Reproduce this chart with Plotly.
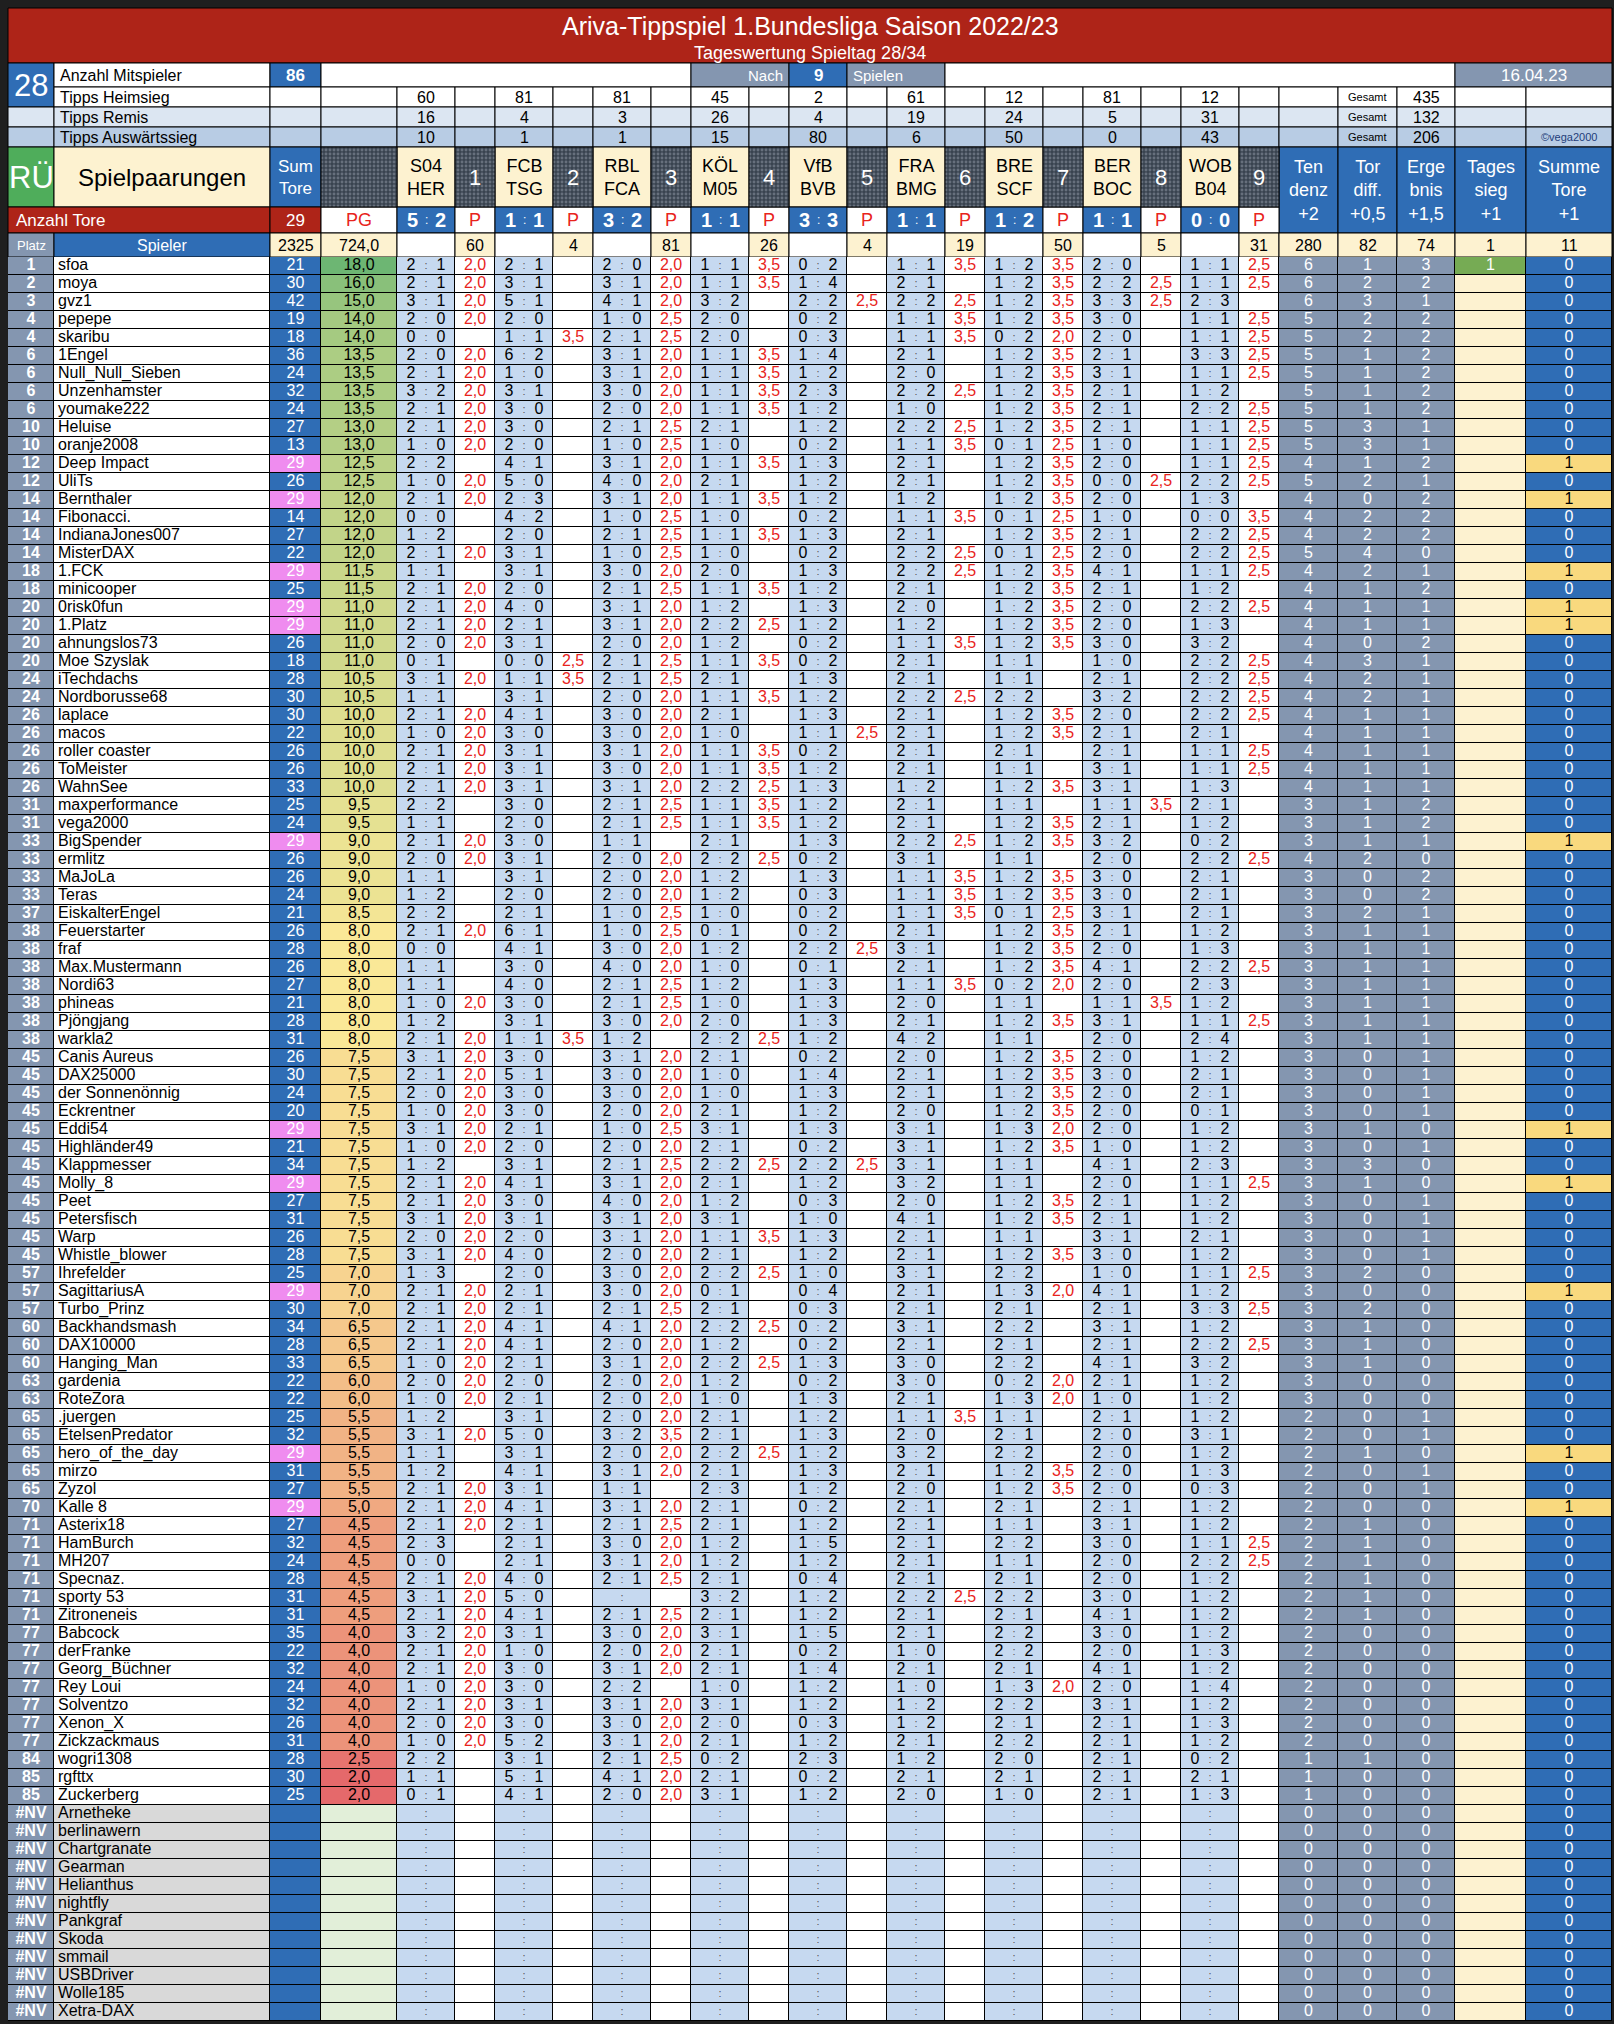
import plotly.graph_objects as go

# ---------------- data ----------------
titel = "Ariva-Tippspiel 1.Bundesliga Saison 2022/23"
untertitel = "Tageswertung Spieltag 28/34"
spieltag = 28
mitspieler = 86
spiele = 9
datum = "16.04.23"

paarungen = ["S04<br>HER", "FCB<br>TSG", "RBL<br>FCA", "KÖL<br>M05", "VfB<br>BVB",
             "FRA<br>BMG", "BRE<br>SCF", "BER<br>BOC", "WOB<br>B04"]
ergebnisse = ["52", "11", "32", "11", "33", "11", "12", "11", "00"]
tipps_heim = [60, 81, 81, 45, 2, 61, 12, 81, 12]
tipps_remis = [16, 4, 3, 26, 4, 19, 24, 5, 31]
tipps_ausw = [10, 1, 1, 15, 80, 6, 50, 0, 43]
tipps_gesamt = [435, 132, 206]
anzahl_tore = 29
summe_sumtore = 2325
summe_pg = "724,0"
punkte_spiel = [60, 4, 81, 26, 4, 19, 50, 5, 31]
wertung_titel = ["Ten<br>denz<br>+2", "Tor<br>diff.<br>+0,5", "Erge<br>bnis<br>+1,5",
                 "Tages<br>sieg<br>+1", "Summe<br>Tore<br>+1"]
wertung_summen = [280, 82, 74, 1, 11]

platz = [1, 2, 3, 4, 4, 6, 6, 6, 6, 10,
         10, 12, 12, 14, 14, 14, 14, 18, 18, 20,
         20, 20, 20, 24, 24, 26, 26, 26, 26, 26,
         31, 31, 33, 33, 33, 33, 37, 38, 38, 38,
         38, 38, 38, 38, 45, 45, 45, 45, 45, 45,
         45, 45, 45, 45, 45, 45, 57, 57, 57, 60,
         60, 60, 63, 63, 65, 65, 65, 65, 65, 70,
         71, 71, 71, 71, 71, 71, 77, 77, 77, 77,
         77, 77, 77, 84, 85, 85]

spieler = ["sfoa", "moya", "gvz1", "pepepe", "skaribu", "1Engel", "Null_Null_Sieben",
           "Unzenhamster", "youmake222", "Heluise", "oranje2008", "Deep Impact", "UliTs",
           "Bernthaler", "Fibonacci.", "IndianaJones007", "MisterDAX", "1.FCK", "minicooper",
           "0risk0fun", "1.Platz", "ahnungslos73", "Moe Szyslak", "iTechdachs", "Nordborusse68",
           "laplace", "macos", "roller coaster", "ToMeister", "WahnSee", "maxperformance",
           "vega2000", "BigSpender", "ermlitz", "MaJoLa", "Teras", "EiskalterEngel",
           "Feuerstarter", "fraf", "Max.Mustermann", "Nordi63", "phineas", "Pjöngjang",
           "warkla2", "Canis Aureus", "DAX25000", "der Sonnenönnig", "Eckrentner", "Eddi54",
           "Highländer49", "Klappmesser", "Molly_8", "Peet", "Petersfisch", "Warp",
           "Whistle_blower", "Ihrefelder", "SagittariusA", "Turbo_Prinz", "Backhandsmash",
           "DAX10000", "Hanging_Man", "gardenia", "RoteZora", ".juergen", "EtelsenPredator",
           "hero_of_the_day", "mirzo", "Zyzol", "Kalle 8", "Asterix18", "HamBurch", "MH207",
           "Specnaz.", "sporty 53", "Zitroneneis", "Babcock", "derFranke", "Georg_Büchner",
           "Rey Loui", "Solventzo", "Xenon_X", "Zickzackmaus", "wogri1308", "rgfttx",
           "Zuckerberg"]

sum_tore = [21, 30, 42, 19, 18, 36, 24, 32, 24, 27,
            13, 29, 26, 29, 14, 27, 22, 29, 25, 29,
            29, 26, 18, 28, 30, 30, 22, 26, 26, 33,
            25, 24, 29, 26, 26, 24, 21, 26, 28, 26,
            27, 21, 28, 31, 26, 30, 24, 20, 29, 21,
            34, 29, 27, 31, 26, 28, 25, 29, 30, 34,
            28, 33, 22, 22, 25, 32, 29, 31, 27, 29,
            27, 32, 24, 28, 31, 31, 35, 22, 32, 24,
            32, 26, 31, 28, 30, 25]

pg = [18.0, 16.0, 15.0, 14.0, 14.0, 13.5, 13.5, 13.5, 13.5, 13.0,
      13.0, 12.5, 12.5, 12.0, 12.0, 12.0, 12.0, 11.5, 11.5, 11.0,
      11.0, 11.0, 11.0, 10.5, 10.5, 10.0, 10.0, 10.0, 10.0, 10.0,
      9.5, 9.5, 9.0, 9.0, 9.0, 9.0, 8.5, 8.0, 8.0, 8.0,
      8.0, 8.0, 8.0, 8.0, 7.5, 7.5, 7.5, 7.5, 7.5, 7.5,
      7.5, 7.5, 7.5, 7.5, 7.5, 7.5, 7.0, 7.0, 7.0, 6.5,
      6.5, 6.5, 6.0, 6.0, 5.5, 5.5, 5.5, 5.5, 5.5, 5.0,
      4.5, 4.5, 4.5, 4.5, 4.5, 4.5, 4.0, 4.0, 4.0, 4.0,
      4.0, 4.0, 4.0, 2.5, 2.0, 2.0]

# tips per player, one "home away" pair per game ("--" = no tip)
tipps = [
    "21 21 20 11 02 11 12 20 11", "21 31 31 11 14 21 12 22 11", "31 51 41 32 22 22 12 33 23",
    "20 20 10 20 02 11 12 30 11", "00 11 21 20 03 11 02 20 11", "20 62 31 11 14 21 12 21 33",
    "21 10 31 11 12 20 12 31 11", "32 31 30 11 23 22 12 21 12", "21 30 20 11 12 10 12 21 22",
    "21 30 21 21 12 22 12 21 11", "10 20 10 10 02 11 01 10 11", "22 41 31 11 13 21 12 20 11",
    "10 50 40 21 12 21 12 00 22", "21 23 31 11 12 12 12 20 13", "00 42 10 10 02 11 01 10 00",
    "12 20 21 11 13 21 12 21 22", "21 31 10 10 02 22 01 20 22", "11 31 30 20 13 22 12 41 11",
    "21 20 21 11 12 21 12 21 12", "21 40 31 12 13 20 12 20 22", "21 21 31 22 12 12 12 20 13",
    "20 31 20 12 02 11 12 30 32", "01 00 21 11 02 21 11 10 22", "31 11 21 21 13 21 11 21 22",
    "11 31 20 11 12 22 22 32 22", "21 41 30 21 13 21 12 20 22", "10 30 30 10 11 21 12 21 21",
    "21 31 31 11 02 21 21 21 11", "21 31 30 11 12 21 11 31 11", "21 31 31 22 13 12 12 31 13",
    "22 30 21 11 12 21 11 11 21", "11 20 21 11 12 21 12 21 12", "21 30 11 21 13 22 12 32 02",
    "20 31 20 22 02 31 11 20 22", "11 31 20 12 13 11 12 30 21", "12 20 20 12 03 11 12 30 21",
    "22 21 10 10 02 11 01 31 21", "21 61 10 01 02 21 12 21 12", "00 41 30 12 22 31 12 20 13",
    "11 30 40 10 01 21 12 41 22", "11 40 21 12 13 11 02 20 23", "10 30 21 10 13 20 11 11 12",
    "12 31 30 20 13 21 12 31 11", "21 11 12 22 12 42 11 20 24", "31 30 31 21 02 20 12 20 12",
    "21 51 30 10 14 21 12 30 21", "20 30 30 10 13 21 12 20 21", "10 30 20 21 12 20 12 20 01",
    "31 21 10 31 13 31 13 20 12", "10 20 20 21 02 31 12 10 12", "12 31 21 22 22 31 11 41 23",
    "21 41 31 21 12 32 11 20 11", "21 30 40 12 03 20 12 21 12", "31 31 31 31 10 41 12 21 12",
    "20 20 31 11 13 21 11 31 21", "31 40 20 21 12 21 12 30 12", "13 20 30 22 10 31 22 10 11",
    "21 21 30 01 04 21 13 41 12", "21 21 21 21 03 21 21 21 33", "21 41 41 22 02 31 22 31 12",
    "21 41 20 12 02 21 21 21 22", "10 21 31 22 13 30 22 41 32", "20 20 20 12 02 30 02 21 12",
    "10 21 20 10 13 21 13 10 12", "12 31 20 21 12 11 11 21 12", "31 50 32 21 13 20 21 20 31",
    "11 31 20 22 12 32 22 20 12", "12 41 31 21 13 21 12 20 13", "21 31 11 23 12 20 12 20 03",
    "21 41 31 21 02 21 21 21 12", "21 21 21 21 12 21 11 31 12", "23 21 30 12 15 21 22 30 11",
    "00 21 31 12 12 21 11 20 22", "21 40 21 21 04 21 21 20 12", "31 50 -- 32 12 22 22 30 12",
    "21 41 21 21 12 21 21 41 12", "32 31 30 31 15 21 22 30 12", "21 10 20 21 02 10 22 20 13",
    "21 30 31 21 14 21 21 41 12", "10 30 22 10 12 10 13 20 14", "21 31 31 31 12 12 22 31 12",
    "20 30 30 20 03 12 21 21 13", "10 52 31 21 12 21 22 21 12", "22 31 21 02 23 12 20 21 02",
    "11 51 41 21 02 21 21 21 21", "01 41 20 31 12 20 10 21 13",
]

# points per game ("-" = none)
punkte = [
    "2,0 - 2,0 3,5 - 3,5 3,5 - 2,5", "2,0 - 2,0 3,5 - - 3,5 2,5 2,5", "2,0 - 2,0 - 2,5 2,5 3,5 2,5 -",
    "2,0 - 2,5 - - 3,5 3,5 - 2,5", "- 3,5 2,5 - - 3,5 2,0 - 2,5", "2,0 - 2,0 3,5 - - 3,5 - 2,5",
    "2,0 - 2,0 3,5 - - 3,5 - 2,5", "2,0 - 2,0 3,5 - 2,5 3,5 - -", "2,0 - 2,0 3,5 - - 3,5 - 2,5",
    "2,0 - 2,5 - - 2,5 3,5 - 2,5", "2,0 - 2,5 - - 3,5 2,5 - 2,5", "- - 2,0 3,5 - - 3,5 - 2,5",
    "2,0 - 2,0 - - - 3,5 2,5 2,5", "2,0 - 2,0 3,5 - - 3,5 - -", "- - 2,5 - - 3,5 2,5 - 3,5",
    "- - 2,5 3,5 - - 3,5 - 2,5", "2,0 - 2,5 - - 2,5 2,5 - 2,5", "- - 2,0 - - 2,5 3,5 - 2,5",
    "2,0 - 2,5 3,5 - - 3,5 - -", "2,0 - 2,0 - - - 3,5 - 2,5", "2,0 - 2,0 2,5 - - 3,5 - -",
    "2,0 - 2,0 - - 3,5 3,5 - -", "- 2,5 2,5 3,5 - - - - 2,5", "2,0 3,5 2,5 - - - - - 2,5",
    "- - 2,0 3,5 - 2,5 - - 2,5", "2,0 - 2,0 - - - 3,5 - 2,5", "2,0 - 2,0 - 2,5 - 3,5 - -",
    "2,0 - 2,0 3,5 - - - - 2,5", "2,0 - 2,0 3,5 - - - - 2,5", "2,0 - 2,0 2,5 - - 3,5 - -",
    "- - 2,5 3,5 - - - 3,5 -", "- - 2,5 3,5 - - 3,5 - -", "2,0 - - - - 2,5 3,5 - -",
    "2,0 - 2,0 2,5 - - - - 2,5", "- - 2,0 - - 3,5 3,5 - -", "- - 2,0 - - 3,5 3,5 - -",
    "- - 2,5 - - 3,5 2,5 - -", "2,0 - 2,5 - - - 3,5 - -", "- - 2,0 - 2,5 - 3,5 - -",
    "- - 2,0 - - - 3,5 - 2,5", "- - 2,5 - - 3,5 2,0 - -", "2,0 - 2,5 - - - - 3,5 -",
    "- - 2,0 - - - 3,5 - 2,5", "2,0 3,5 - 2,5 - - - - -", "2,0 - 2,0 - - - 3,5 - -",
    "2,0 - 2,0 - - - 3,5 - -", "2,0 - 2,0 - - - 3,5 - -", "2,0 - 2,0 - - - 3,5 - -",
    "2,0 - 2,5 - - - 2,0 - -", "2,0 - 2,0 - - - 3,5 - -", "- - 2,5 2,5 2,5 - - - -",
    "2,0 - 2,0 - - - - - 2,5", "2,0 - 2,0 - - - 3,5 - -", "2,0 - 2,0 - - - 3,5 - -",
    "2,0 - 2,0 3,5 - - - - -", "2,0 - 2,0 - - - 3,5 - -", "- - 2,0 2,5 - - - - 2,5",
    "2,0 - 2,0 - - - 2,0 - -", "2,0 - 2,5 - - - - - 2,5", "2,0 - 2,0 2,5 - - - - -",
    "2,0 - 2,0 - - - - - 2,5", "2,0 - 2,0 2,5 - - - - -", "2,0 - 2,0 - - - 2,0 - -",
    "2,0 - 2,0 - - - 2,0 - -", "- - 2,0 - - 3,5 - - -", "2,0 - 3,5 - - - - - -",
    "- - 2,0 2,5 - - - - -", "- - 2,0 - - - 3,5 - -", "2,0 - - - - - 3,5 - -",
    "2,0 - 2,0 - - - - - -", "2,0 - 2,5 - - - - - -", "- - 2,0 - - - - - 2,5",
    "- - 2,0 - - - - - 2,5", "2,0 - 2,5 - - - - - -", "2,0 - - - - 2,5 - - -",
    "2,0 - 2,5 - - - - - -", "2,0 - 2,0 - - - - - -", "2,0 - 2,0 - - - - - -",
    "2,0 - 2,0 - - - - - -", "2,0 - - - - - 2,0 - -", "2,0 - 2,0 - - - - - -",
    "2,0 - 2,0 - - - - - -", "2,0 - 2,0 - - - - - -", "- - 2,5 - - - - - -",
    "- - 2,0 - - - - - -", "- - 2,0 - - - - - -",
]

tendenz = [6, 6, 6, 5, 5, 5, 5, 5, 5, 5,
           5, 4, 5, 4, 4, 4, 5, 4, 4, 4,
           4, 4, 4, 4, 4, 4, 4, 4, 4, 4,
           3, 3, 3, 4, 3, 3, 3, 3, 3, 3,
           3, 3, 3, 3, 3, 3, 3, 3, 3, 3,
           3, 3, 3, 3, 3, 3, 3, 3, 3, 3,
           3, 3, 3, 3, 2, 2, 2, 2, 2, 2,
           2, 2, 2, 2, 2, 2, 2, 2, 2, 2,
           2, 2, 2, 1, 1, 1]
tordiff = [1, 2, 3, 2, 2, 1, 1, 1, 1, 3,
           3, 1, 2, 0, 2, 2, 4, 2, 1, 1,
           1, 0, 3, 2, 2, 1, 1, 1, 1, 1,
           1, 1, 1, 2, 0, 0, 2, 1, 1, 1,
           1, 1, 1, 1, 0, 0, 0, 0, 1, 0,
           3, 1, 0, 0, 0, 0, 2, 0, 2, 1,
           1, 1, 0, 0, 0, 0, 1, 0, 0, 0,
           1, 1, 1, 1, 1, 1, 0, 0, 0, 0,
           0, 0, 0, 1, 0, 0]
ergebnis = [3, 2, 1, 2, 2, 2, 2, 2, 2, 1,
            1, 2, 1, 2, 2, 2, 0, 1, 2, 1,
            1, 2, 1, 1, 1, 1, 1, 1, 1, 1,
            2, 2, 1, 0, 2, 2, 1, 1, 1, 1,
            1, 1, 1, 1, 1, 1, 1, 1, 0, 1,
            0, 0, 1, 1, 1, 1, 0, 0, 0, 0,
            0, 0, 0, 0, 1, 1, 0, 1, 1, 0,
            0, 0, 0, 0, 0, 0, 0, 0, 0, 0,
            0, 0, 0, 0, 0, 0]
tagessieg = [1, 0, 0, 0, 0, 0, 0, 0, 0, 0,
             0, 0, 0, 0, 0, 0, 0, 0, 0, 0,
             0, 0, 0, 0, 0, 0, 0, 0, 0, 0,
             0, 0, 0, 0, 0, 0, 0, 0, 0, 0,
             0, 0, 0, 0, 0, 0, 0, 0, 0, 0,
             0, 0, 0, 0, 0, 0, 0, 0, 0, 0,
             0, 0, 0, 0, 0, 0, 0, 0, 0, 0,
             0, 0, 0, 0, 0, 0, 0, 0, 0, 0,
             0, 0, 0, 0, 0, 0]
summe_tore = [0, 0, 0, 0, 0, 0, 0, 0, 0, 0,
              0, 1, 0, 1, 0, 0, 0, 1, 0, 1,
              1, 0, 0, 0, 0, 0, 0, 0, 0, 0,
              0, 0, 1, 0, 0, 0, 0, 0, 0, 0,
              0, 0, 0, 0, 0, 0, 0, 0, 1, 0,
              0, 1, 0, 0, 0, 0, 0, 1, 0, 0,
              0, 0, 0, 0, 0, 0, 1, 0, 0, 1,
              0, 0, 0, 0, 0, 0, 0, 0, 0, 0,
              0, 0, 0, 0, 0, 0]

nv_spieler = ["Arnetheke", "berlinawern", "Chartgranate", "Gearman", "Helianthus", "nightfly",
              "Pankgraf", "Skoda", "smmail", "USBDriver", "Wolle185", "Xetra-DAX"]

# ---------------- styling ----------------
BLUE = "#2f6db5"
GREYBLUE = "#8496b0"
LIGHTBLUE = "#c6d9f0"
CREAM = "#fdf2d0"
DARKRED = "#ae2418"
REDTEXT = "#e8241c"
PINK = "#ef8cef"
YELLOW = "#f9d97e"
GREEN_T = "#76ab54"
GREEN_RU = "#4fad5b"
NVGREY = "#d9d9d9"
NVPG = "#e2efd9"
REMIS = "#dce6f2"
AUSW = "#b8cce4"
WHITE = "#ffffff"
FONT = "Liberation Sans, Arial, Helvetica, sans-serif"

col_w = [46, 216, 51, 76] + [58, 40] * 9 + [59, 59, 58, 71, 86]
edges = [8]
for w in col_w:
    edges.append(edges[-1] + w)
hy = [8, 63, 87, 107, 127, 147, 207, 233, 257]
ROW_H = 18
n_rows = len(spieler) + len(nv_spieler)
by = [hy[-1] + ROW_H * i for i in range(n_rows + 1)]
yc = [(by[i] + by[i + 1]) / 2 for i in range(n_rows)]


def cx(c):
    return (edges[c] + edges[c + 1]) / 2


def tip_col(g):
    return 4 + 2 * g


def p_col(g):
    return 5 + 2 * g


shapes = [dict(type="rect", x0=edges[0], x1=edges[-1], y0=hy[0], y1=by[-1],
               fillcolor="black", line=dict(width=0), layer="below")]
annotations = []


def cell(x0, x1, y0, y1, fill):
    shapes.append(dict(type="rect", x0=x0, x1=x1, y0=y0, y1=y1, fillcolor=fill,
                       line=dict(color="black", width=1), layer="below"))


def label(x, y, text, color="black", size=16, anchor="center", bold=False):
    annotations.append(dict(x=x, y=y, text=text, showarrow=False, xanchor=anchor,
                            yanchor="middle", align="center",
                            font=dict(color=color, size=size, family=FONT,
                                      weight="bold" if bold else "normal")))


fig = go.Figure()

# ---------------- header ----------------
cell(edges[0], edges[-1], hy[0], hy[1], DARKRED)
label(810, 26, titel, WHITE, 25)
label(810, 53, untertitel, WHITE, 18)

y0, y1 = hy[1], hy[2]
ym = (y0 + y1) / 2
cell(edges[0], edges[1], hy[1], hy[3], BLUE)
label(cx(0), (hy[1] + hy[3]) / 2, str(spieltag), WHITE, 31)
cell(edges[1], edges[2], y0, y1, WHITE)
label(edges[1] + 4, ym, "Anzahl Mitspieler", "black", 16, "left")
cell(edges[2], edges[3], y0, y1, BLUE)
label(cx(2), ym, str(mitspieler), WHITE, 17, bold=True)
cell(edges[3], edges[tip_col(3)], y0, y1, WHITE)
cell(edges[tip_col(3)], edges[tip_col(4)], y0, y1, GREYBLUE)
label(edges[tip_col(4)] - 4, ym, "Nach", WHITE, 15, "right")
cell(edges[tip_col(4)], edges[p_col(4)], y0, y1, BLUE)
label(cx(tip_col(4)), ym, str(spiele), WHITE, 17, bold=True)
cell(edges[p_col(4)], edges[p_col(5)], y0, y1, GREYBLUE)
label(edges[p_col(4)] + 4, ym, "Spielen", WHITE, 15, "left")
cell(edges[p_col(5)], edges[25], y0, y1, WHITE)
cell(edges[25], edges[27], y0, y1, GREYBLUE)
label((edges[25] + edges[27]) / 2, ym, datum, WHITE, 17)

tipp_rows = [("Tipps Heimsieg", tipps_heim, WHITE),
             ("Tipps Remis", tipps_remis, REMIS),
             ("Tipps Auswärtssieg", tipps_ausw, AUSW)]
for r, (name, vals, fill) in enumerate(tipp_rows):
    y0, y1 = hy[2 + r], hy[3 + r]
    ym = (y0 + y1) / 2
    if r > 0:
        cell(edges[0], edges[1], y0, y1, fill)
    cell(edges[1], edges[2], y0, y1, fill)
    label(edges[1] + 4, ym, name, "black", 16, "left")
    cell(edges[2], edges[3], y0, y1, fill)
    cell(edges[3], edges[4], y0, y1, fill)
    for g in range(9):
        cell(edges[tip_col(g)], edges[tip_col(g) + 1], y0, y1, fill)
        label(cx(tip_col(g)), ym, str(vals[g]), "black", 16)
        cell(edges[p_col(g)], edges[p_col(g) + 1], y0, y1, fill)
    for c in range(22, 27):
        cell(edges[c], edges[c + 1], y0, y1, fill)
    label(cx(23), ym, "Gesamt", "black", 11)
    label(cx(24), ym, str(tipps_gesamt[r]), "black", 16)
    if r == 2:
        label(cx(26), ym, "©vega2000", "#1f3d7a", 11)

# Spielpaarungen row
y0, y1 = hy[5], hy[6]
ym = (y0 + y1) / 2
cell(edges[0], edges[1], y0, y1, GREEN_RU)
label(cx(0), ym, "RÜ", WHITE, 31)
cell(edges[1], edges[2], y0, y1, CREAM)
label(cx(1), ym, "Spielpaarungen", "black", 24)
cell(edges[2], edges[3], y0, y1, BLUE)
label(cx(2), ym, "Sum<br>Tore", WHITE, 17)
hatch_x, hatch_w = [cx(3)], [col_w[3]]
for g in range(9):
    cell(edges[tip_col(g)], edges[tip_col(g) + 1], y0, y1, CREAM)
    label(cx(tip_col(g)), ym, paarungen[g], "black", 18)
    hatch_x.append(cx(p_col(g)))
    hatch_w.append(col_w[p_col(g)])
    label(cx(p_col(g)), ym, str(g + 1), WHITE, 22)
fig.add_trace(go.Bar(x=hatch_x, y=[y1 - y0] * len(hatch_x), base=[y0] * len(hatch_x),
                     width=hatch_w, hoverinfo="skip", showlegend=False,
                     marker=dict(color="#39434f", line=dict(color="black", width=1),
                                 pattern=dict(shape=".", fgcolor="#959dab", bgcolor="#39434f",
                                              size=4, solidity=0.4))))
for k, c in enumerate(range(22, 27)):
    cell(edges[c], edges[c + 1], hy[5], hy[7], BLUE)
    label(cx(c), (hy[5] + hy[7]) / 2, wertung_titel[k], WHITE, 18)

# Anzahl Tore row
y0, y1 = hy[6], hy[7]
ym = (y0 + y1) / 2
cell(edges[0], edges[2], y0, y1, DARKRED)
label(edges[0] + 6, ym, "Anzahl Tore", WHITE, 17, "left")
cell(edges[2], edges[3], y0, y1, DARKRED)
label(cx(2), ym, str(anzahl_tore), WHITE, 17)
cell(edges[3], edges[4], y0, y1, WHITE)
label(cx(3), ym, "PG", REDTEXT, 18)
for g in range(9):
    c = tip_col(g)
    cell(edges[c], edges[c + 1], y0, y1, BLUE)
    label(cx(c) - 14, ym, ergebnisse[g][0], WHITE, 20, bold=True)
    label(cx(c), ym, ":", WHITE, 12)
    label(cx(c) + 14, ym, ergebnisse[g][1], WHITE, 20, bold=True)
    cell(edges[c + 1], edges[c + 2], y0, y1, WHITE)
    label(cx(c + 1), ym, "P", REDTEXT, 18)

# Platz / Spieler row
y0, y1 = hy[7], hy[8]
ym = (y0 + y1) / 2
cell(edges[0], edges[1], y0, y1, GREYBLUE)
label(cx(0), ym, "Platz", WHITE, 13)
cell(edges[1], edges[2], y0, y1, BLUE)
label(cx(1), ym, "Spieler", WHITE, 16)
cell(edges[2], edges[3], y0, y1, CREAM)
label(cx(2), ym, str(summe_sumtore), "black", 16)
cell(edges[3], edges[4], y0, y1, CREAM)
label(cx(3), ym, summe_pg, "black", 16)
for g in range(9):
    cell(edges[tip_col(g)], edges[tip_col(g) + 1], y0, y1, WHITE)
    cell(edges[p_col(g)], edges[p_col(g) + 1], y0, y1, CREAM)
    label(cx(p_col(g)), ym, str(punkte_spiel[g]), "black", 16)
for k, c in enumerate(range(22, 27)):
    cell(edges[c], edges[c + 1], y0, y1, CREAM)
    label(cx(c), ym, str(wertung_summen[k]), "black", 16)

# ---------------- body cells ----------------
palette = [GREYBLUE, WHITE, BLUE, PINK, LIGHTBLUE, CREAM, GREEN_T, YELLOW, NVGREY, NVPG]
code = {c: i for i, c in enumerate(palette)}
z = []
for i in range(len(spieler)):
    row = [GREYBLUE, WHITE, PINK if sum_tore[i] == anzahl_tore else BLUE, None]
    row += [LIGHTBLUE, WHITE] * 9 + [GREYBLUE] * 3
    row += [GREEN_T if tagessieg[i] else CREAM, YELLOW if summe_tore[i] else BLUE]
    z.append([None if c is None else code[c] for c in row])
for _ in nv_spieler:
    row = [GREYBLUE, NVGREY, BLUE, NVPG] + [LIGHTBLUE, WHITE] * 9 + [GREYBLUE] * 3 + [CREAM, BLUE]
    z.append([code[c] for c in row])

n = len(palette)
scale = []
for i, c in enumerate(palette):
    scale += [[i / n, c], [(i + 1) / n, c]]
fig.add_trace(go.Heatmap(z=z, x=edges, y=by, colorscale=scale, zmin=-0.5, zmax=n - 0.5,
                         showscale=False, xgap=1, ygap=1, hoverinfo="skip"))
fig.add_trace(go.Heatmap(z=[[v] for v in pg] + [[None]] * len(nv_spieler), x=edges[3:5], y=by,
                         colorscale=[[0, "#e5696b"], [0.375, "#fae897"], [1, "#6db673"]],
                         zmin=2, zmax=18, showscale=False, xgap=1, ygap=1, hoverinfo="skip"))

# ---------------- body text ----------------


def add_text(xs, ys, texts, color, size=16, pos="middle center", bold=False):
    fig.add_trace(go.Scatter(x=xs, y=ys, text=texts, mode="text", textposition=pos,
                             textfont=dict(color=color, size=size, family=FONT,
                                           weight="bold" if bold else "normal"),
                             hoverinfo="skip", showlegend=False, cliponaxis=False))


n_sp = len(spieler)
add_text([cx(0)] * n_rows, yc, [str(p) for p in platz] + ["#NV"] * len(nv_spieler), WHITE, 16, bold=True)
add_text([edges[1] + 4] * n_rows, yc, spieler + nv_spieler, "black", 16, "middle right")
add_text([cx(2)] * n_sp, yc[:n_sp], [str(s) for s in sum_tore], WHITE, 16)
add_text([cx(3)] * n_sp, yc[:n_sp], [f"{v:.1f}".replace(".", ",") for v in pg], "black", 16)

lx, rx, dx, dy = [], [], [], []
px, py, ptxt = [], [], []
for i in range(n_rows):
    for g in range(9):
        c = tip_col(g)
        dx.append(cx(c))
        dy.append(yc[i])
        if i < n_sp:
            t = tipps[i].split()[g]
            p = punkte[i].split()[g]
            if t != "--":
                lx.append((cx(c) - 15, yc[i], t[0]))
                rx.append((cx(c) + 15, yc[i], t[1]))
            if p != "-":
                px.append(cx(c + 1))
                py.append(yc[i])
                ptxt.append(p)
add_text([a[0] for a in lx], [a[1] for a in lx], [a[2] for a in lx], "black", 16)
add_text([a[0] for a in rx], [a[1] for a in rx], [a[2] for a in rx], "black", 16)
add_text(dx, dy, [":"] * len(dx), "#555555", 11)
add_text(px, py, ptxt, REDTEXT, 16)

zeros = [0] * len(nv_spieler)
for c, vals in zip([22, 23, 24], [tendenz, tordiff, ergebnis]):
    add_text([cx(c)] * n_rows, yc, [str(v) for v in vals + zeros], WHITE, 16)
ts = [i for i in range(n_sp) if tagessieg[i]]
add_text([cx(25)] * len(ts), [yc[i] for i in ts], [str(tagessieg[i]) for i in ts], WHITE, 16)
add_text([cx(26)] * n_rows, yc, [str(v) for v in summe_tore + zeros],
         ["black" if v else WHITE for v in summe_tore + zeros], 16)

fig.update_layout(width=1614, height=2024, margin=dict(l=0, r=0, t=0, b=0),
                  paper_bgcolor="#1f1f1f", plot_bgcolor="#1f1f1f", showlegend=False,
                  xaxis=dict(range=[0, 1614], visible=False, fixedrange=True),
                  yaxis=dict(range=[2024, 0], visible=False, fixedrange=True),
                  shapes=shapes, annotations=annotations)

fig.write_html("out.html", config={"displayModeBar": False},
               post_script="document.body.style.margin='0';document.body.style.background='#1f1f1f';")
